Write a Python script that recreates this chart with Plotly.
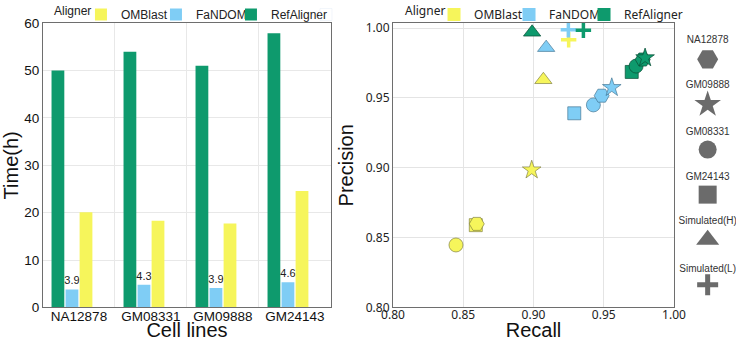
import plotly.graph_objects as go

# ---------------- data ----------------
cell_lines = ["NA12878", "GM08331", "GM09888", "GM24143"]
refaligner_time = [50.0, 54.0, 51.0, 57.9]
fandom_time = [3.8, 4.8, 4.1, 5.3]
fandom_labels = ["3.9", "4.3", "3.9", "4.6"]
omblast_time = [20.1, 18.3, 17.7, 24.6]

datasets = ["NA12878", "GM09888", "GM08331", "GM24143", "Simulated(H)", "Simulated(L)"]
omblast_recall = [0.8596, 0.8987, 0.8448, 0.8589, 0.907, 0.925]
omblast_precision = [0.8598, 0.8984, 0.8447, 0.8589, 0.963, 0.9917]
fandom_recall = [0.9485, 0.9557, 0.9426, 0.929, 0.909, 0.9248]
fandom_precision = [0.9516, 0.9574, 0.945, 0.939, 0.986, 0.9988]
refaligner_recall = [0.9777, 0.9794, 0.9730, 0.9699, 0.899, 0.9355]
refaligner_precision = [0.9775, 0.9787, 0.9728, 0.9686, 0.997, 0.9984]

# ---------------- styles ----------------
YELLOW = "#f6f55b"
BLUE = "#7fcdf5"
GREEN = "#0e9a6d"
GREY = "#6b6b6b"
SYMBOLS = {"NA12878": "hexagon2", "GM09888": "star", "GM08331": "circle",
           "GM24143": "square", "Simulated(H)": "triangle-up", "Simulated(L)": "cross-thin"}
SIZES = {"hexagon2": 15, "star": 14, "circle": 14, "square": 13, "triangle-up": 15, "cross-thin": 11}
LEG_SIZES = {"hexagon2": 21, "star": 20, "circle": 18, "square": 18, "triangle-up": 20, "cross-thin": 15}
DRAW_ORDER = [3, 2, 0, 1, 4, 5]

LEFT_FONT = "Arial, Liberation Sans, sans-serif"
RIGHT_FONT = "Noto Sans, Open Sans, sans-serif"
YDOM = [0.0997, 0.943]

fig = go.Figure()

# ---------------- left: bar chart ----------------
fig.add_trace(go.Bar(x=cell_lines, y=refaligner_time, name="RefAligner",
                     marker=dict(color=GREEN, line=dict(width=0)),
                     legend="legend", legendrank=3, xaxis="x", yaxis="y"))
fig.add_trace(go.Bar(x=cell_lines, y=fandom_time, name="FaNDOM",
                     marker=dict(color=BLUE, line=dict(width=0)),
                     text=fandom_labels, textposition="outside", constraintext="none",
                     textfont=dict(size=11, color="#222", family=LEFT_FONT), cliponaxis=False,
                     legend="legend", legendrank=2, xaxis="x", yaxis="y"))
fig.add_trace(go.Bar(x=cell_lines, y=omblast_time, name="OMBlast",
                     marker=dict(color=YELLOW, line=dict(width=0)),
                     legend="legend", legendrank=1, xaxis="x", yaxis="y"))
# spacer entry so the last legend label is not clipped
fig.add_trace(go.Bar(x=[None], y=[None], name=" ", marker=dict(color="rgba(0,0,0,0)"),
                     legend="legend", legendrank=4, xaxis="x", yaxis="y", hoverinfo="skip"))

# ---------------- right: scatter ----------------
series = [("OMBlast", omblast_recall, omblast_precision, YELLOW, "rgba(120,120,60,0.8)"),
          ("FaNDOM", fandom_recall, fandom_precision, BLUE, "rgba(60,110,140,0.8)"),
          ("RefAligner", refaligner_recall, refaligner_precision, GREEN, "rgba(10,80,55,0.9)")]
for name, rec, prec, col, edge in series:
    syms = [SYMBOLS[datasets[i]] for i in DRAW_ORDER]
    fig.add_trace(go.Scatter(
        x=[rec[i] for i in DRAW_ORDER], y=[prec[i] for i in DRAW_ORDER],
        mode="markers", name=name, showlegend=False,
        marker=dict(symbol=syms, size=[SIZES[s] for s in syms], color=col, opacity=1,
                    line=dict(width=[3.5 if s == "cross-thin" else 0.8 for s in syms],
                              color=[col if s == "cross-thin" else edge for s in syms])),
        xaxis="x2", yaxis="y2", cliponaxis=False))
for name, rec, prec, col, edge in series:
    fig.add_trace(go.Scatter(x=[None], y=[None], mode="markers", name=name,
                             marker=dict(symbol="square", size=13, color=col, opacity=1),
                             legend="legend2", xaxis="x2", yaxis="y2"))
fig.add_trace(go.Scatter(x=[None], y=[None], mode="markers", name=" ",
                         marker=dict(symbol="square", size=13, color="rgba(0,0,0,0)"),
                         legend="legend2", xaxis="x2", yaxis="y2", hoverinfo="skip"))

# ---------------- shape key ----------------
key_syms = [SYMBOLS[d] for d in datasets]
fig.add_trace(go.Scatter(
    x=[0] * len(datasets), y=list(range(len(datasets))), mode="markers+text",
    text=datasets, textposition="top center",
    textfont=dict(size=10, color="#333", family=LEFT_FONT),
    marker=dict(symbol=key_syms, size=[LEG_SIZES[s] for s in key_syms], color=GREY,
                opacity=1,
                line=dict(width=[5 if s == "cross-thin" else 0 for s in key_syms], color=GREY)),
    showlegend=False, xaxis="x3", yaxis="y3", cliponaxis=False, hoverinfo="skip"))

axis_line = dict(showline=True, mirror=True, linecolor="#6e6e6e", linewidth=1.2,
                 ticks="", zeroline=False, automargin=False)

fig.update_layout(
    width=736, height=341, margin=dict(l=0, r=0, t=0, b=0),
    plot_bgcolor="white", paper_bgcolor="white",
    barmode="group", bargap=0.22, bargroupgap=0.09,
    font=dict(family=LEFT_FONT, size=13, color="#222"),
    xaxis=dict(domain=[0.0584, 0.4497], anchor="y", tickson="boundaries",
               showgrid=True, gridcolor="#e8e8e8", ticklabelstandoff=-4,
               tickfont=dict(size=13.5, color="#111"),
               title=dict(text="Cell lines", font=dict(size=20, color="#111"), standoff=6),
               **axis_line),
    yaxis=dict(domain=YDOM, anchor="x", range=[0, 60], dtick=10,
               showgrid=True, gridcolor="#e8e8e8",
               tickfont=dict(size=13.5, color="#111"),
               title=dict(text="Time(h)", font=dict(size=20, color="#111"), standoff=4),
               **axis_line),
    xaxis2=dict(domain=[0.534, 0.9158], anchor="y2", range=[0.8, 1.0], dtick=0.05,
                tickformat=".2f", showgrid=True, gridcolor="#e4e4e4", ticklabelstandoff=-4,
                tickfont=dict(size=12, color="#222", family=RIGHT_FONT),
                title=dict(text="Recall", font=dict(size=20, color="#111"), standoff=6),
                **axis_line),
    yaxis2=dict(domain=YDOM, anchor="x2", range=[0.8, 1.0035], dtick=0.05,
                tickformat=".2f", showgrid=True, gridcolor="#e4e4e4",
                tickfont=dict(size=12, color="#222", family=RIGHT_FONT),
                title=dict(text="Precision", font=dict(size=20, color="#111"), standoff=6),
                **axis_line),
    xaxis3=dict(domain=[0.925, 0.998], anchor="y3", range=[-1, 1], visible=False),
    yaxis3=dict(domain=YDOM, anchor="x3", range=[5.5, -0.8], visible=False),
    legend=dict(orientation="h", x=0.11, y=1.012, xanchor="left", yanchor="top",
                font=dict(size=12, family=LEFT_FONT, color="#222"),
                bgcolor="rgba(0,0,0,0)", itemwidth=30, entrywidth=30,
                entrywidthmode="pixels"),
    legend2=dict(orientation="h", x=0.5897, y=1.012, xanchor="left", yanchor="top",
                 font=dict(size=12, family=RIGHT_FONT, color="#222"),
                 bgcolor="rgba(0,0,0,0)", itemwidth=30, entrywidth=30,
                 entrywidthmode="pixels"),
    annotations=[
        dict(text="Aligner", xref="paper", yref="paper", x=0.0707, y=0.98,
             xanchor="left", yanchor="middle", showarrow=False,
             font=dict(size=12, family=LEFT_FONT, color="#222")),
        dict(text="Aligner", xref="paper", yref="paper", x=0.5476, y=0.98,
             xanchor="left", yanchor="middle", showarrow=False,
             font=dict(size=12, family=RIGHT_FONT, color="#222")),
    ],
)

fig.write_html("out.html", config={"displayModeBar": False},
               post_script="document.body.style.margin='0';")
